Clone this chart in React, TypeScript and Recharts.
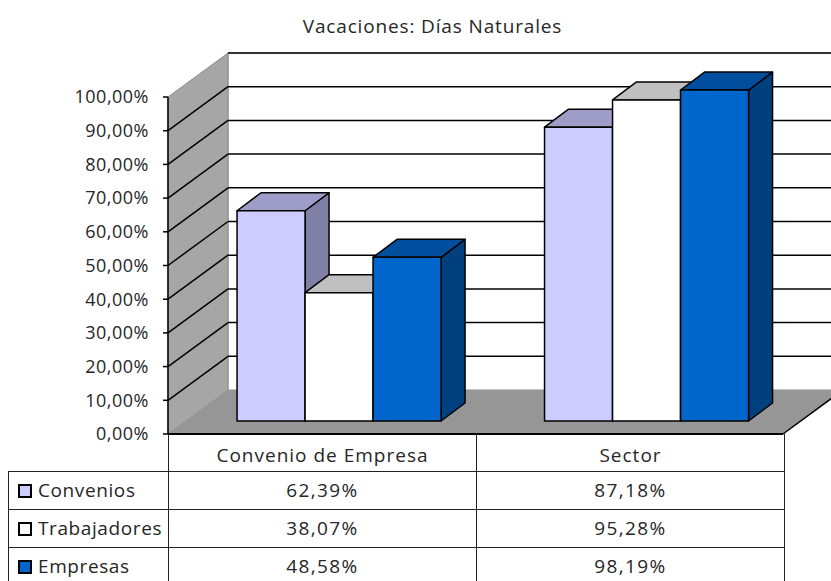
import React from 'react';
import { BarChart, Bar, XAxis, YAxis, ReferenceArea } from 'recharts';

const categories = ['Convenio de Empresa', 'Sector'];
const convenios = [0.6239, 0.8718];
const trabajadores = [0.3807, 0.9528];
const empresas = [0.4858, 0.9819];
const yTicks = [0, 0.1, 0.2, 0.3, 0.4, 0.5, 0.6, 0.7, 0.8, 0.9, 1];

const series = [
  { key: 'convenios', name: 'Convenios', values: convenios, front: '#CCCCFF', top: '#9D9DC8', side: '#8080A6' },
  { key: 'trabajadores', name: 'Trabajadores', values: trabajadores, front: '#FFFFFF', top: '#C0C0C0', side: '#A0A0A0' },
  { key: 'empresas', name: 'Empresas', values: empresas, front: '#0066CC', top: '#004F9E', side: '#00407F' },
];

const data = categories.map((name, i) => ({
  name,
  convenios: convenios[i],
  trabajadores: trabajadores[i],
  empresas: empresas[i],
}));

// fake 3d projection
const WALL_DX = 60;
const WALL_DY = -44;
const BAR_SHIFT_X = 18;
const BAR_SHIFT_Y = -13;
const BAR_DX = 24;
const BAR_DY = -18;

const FONT = '"Open Sans", sans-serif';
const TEXT = '#262626';

const pct = (v: number) => (v * 100).toFixed(2).replace('.', ',') + '%';

function Walls(props: any) {
  const { x, y, width, height } = props;
  const bottom = y + height;
  const right = x + width;
  const bx = x + WALL_DX;
  const yMax = yTicks[yTicks.length - 1];
  const lineY = (t: number) => bottom - (t / yMax) * height;
  return (
    <g>
      <rect x={bx} y={y + WALL_DY} width={width} height={height} fill="#fff" stroke="#8c8c8c" />
      <polygon
        points={`${x},${y} ${bx},${y + WALL_DY} ${bx},${bottom + WALL_DY} ${x},${bottom}`}
        fill="#a6a6a6"
        stroke="#8c8c8c"
      />
      <polygon
        points={`${x},${bottom} ${right},${bottom} ${right + WALL_DX},${bottom + WALL_DY} ${bx},${bottom + WALL_DY}`}
        fill="#969696"
      />
      {yTicks.slice(1).map((t) => {
        const ly = lineY(t);
        return (
          <g key={t}>
            {t < yMax && <line x1={x} y1={ly} x2={bx} y2={ly + WALL_DY} stroke="#000" strokeWidth={1.5} />}
            <line x1={bx} y1={ly + WALL_DY} x2={right + WALL_DX} y2={ly + WALL_DY} stroke="#000" strokeWidth={1.5} />
          </g>
        );
      })}
      <line x1={x} y1={bottom} x2={right} y2={bottom} stroke="#000" strokeWidth={2} />
      <line x1={right} y1={bottom} x2={right + WALL_DX} y2={bottom + WALL_DY} stroke="#000" strokeWidth={1.5} />
    </g>
  );
}

const makeBox = (s: (typeof series)[number]) => (p: any) => {
  const { x, y, width, height } = p;
  if (width == null || height == null) return <g />;
  const fx = x + BAR_SHIFT_X;
  const fy = y + BAR_SHIFT_Y;
  const fb = fy + height;
  const fr = fx + width;
  return (
    <g stroke="#000" strokeWidth={1.5} strokeLinejoin="round">
      <polygon points={`${fr},${fy} ${fr + BAR_DX},${fy + BAR_DY} ${fr + BAR_DX},${fb + BAR_DY} ${fr},${fb}`} fill={s.side} />
      <polygon points={`${fx},${fy} ${fr},${fy} ${fr + BAR_DX},${fy + BAR_DY} ${fx + BAR_DX},${fy + BAR_DY}`} fill={s.top} />
      <rect x={fx} y={fy} width={width} height={height} fill={s.front} />
    </g>
  );
};

const cell: React.CSSProperties = {
  border: '1px solid #222',
  padding: 0,
  textAlign: 'center',
  verticalAlign: 'middle',
};

export default function App() {
  return (
    <div style={{ position: 'absolute', left: 0, top: 0, width: 831, height: 581, overflow: 'hidden', background: '#fff' }}>
      <div
        style={{
          position: 'absolute',
          top: 13,
          left: 0,
          width: 865,
          textAlign: 'center',
          fontFamily: FONT,
          fontSize: 19,
          letterSpacing: 0.85,
          color: TEXT,
        }}
      >
        Vacaciones: Días Naturales
      </div>
      <BarChart
        width={831}
        height={581}
        data={data}
        margin={{ top: 97, right: 48, bottom: 147, left: 88 }}
        barCategoryGap="16.6%"
        barGap={0}
      >
        <XAxis dataKey="name" hide />
        <YAxis
          width={80}
          domain={[0, 1]}
          ticks={yTicks}
          interval={0}
          tickFormatter={pct}
          tickSize={5}
          tickMargin={14}
          axisLine={{ stroke: '#000', strokeWidth: 1.5 }}
          tickLine={{ stroke: '#000', strokeWidth: 1.5 }}
          tick={{ fill: TEXT, fontSize: 18, fontFamily: FONT, letterSpacing: 0.5 }}
        />
        <ReferenceArea y1={0} y2={1} shape={(p: any) => <Walls {...p} />} />
        {series.map((s) => (
          <Bar key={s.key} dataKey={s.key} name={s.name} fill={s.front} isAnimationActive={false} shape={makeBox(s)} />
        ))}
      </BarChart>
      <table
        style={{
          position: 'absolute',
          left: 8,
          top: 434,
          width: 776,
          borderCollapse: 'collapse',
          tableLayout: 'fixed',
          fontFamily: FONT,
          fontSize: 19,
          letterSpacing: 1,
          color: TEXT,
        }}
      >
        <colgroup>
          <col style={{ width: 160 }} />
          <col style={{ width: 308 }} />
          <col style={{ width: 308 }} />
        </colgroup>
        <tbody>
          <tr style={{ height: 37 }}>
            <td style={{ padding: 0, border: 'none', borderRight: '1px solid #222' }} />
            {categories.map((c) => (
              <td key={c} style={{ ...cell, borderTop: 'none', paddingTop: 6, lineHeight: '28px' }}>
                {c}
              </td>
            ))}
          </tr>
          {series.map((s) => (
            <tr key={s.key} style={{ height: 38 }}>
              <td style={{ ...cell, textAlign: 'left', paddingLeft: 9, whiteSpace: 'nowrap', letterSpacing: 0.6, lineHeight: '36px' }}>
                <span
                  style={{
                    display: 'inline-block',
                    width: 10,
                    height: 10,
                    border: '2px solid #000',
                    background: s.front,
                    marginRight: 6,
                    verticalAlign: -1,
                  }}
                />
                {s.name}
              </td>
              {s.values.map((v, i) => (
                <td key={i} style={{ ...cell, letterSpacing: 1.4, lineHeight: '36px' }}>
                  {pct(v)}
                </td>
              ))}
            </tr>
          ))}
        </tbody>
      </table>
    </div>
  );
}
